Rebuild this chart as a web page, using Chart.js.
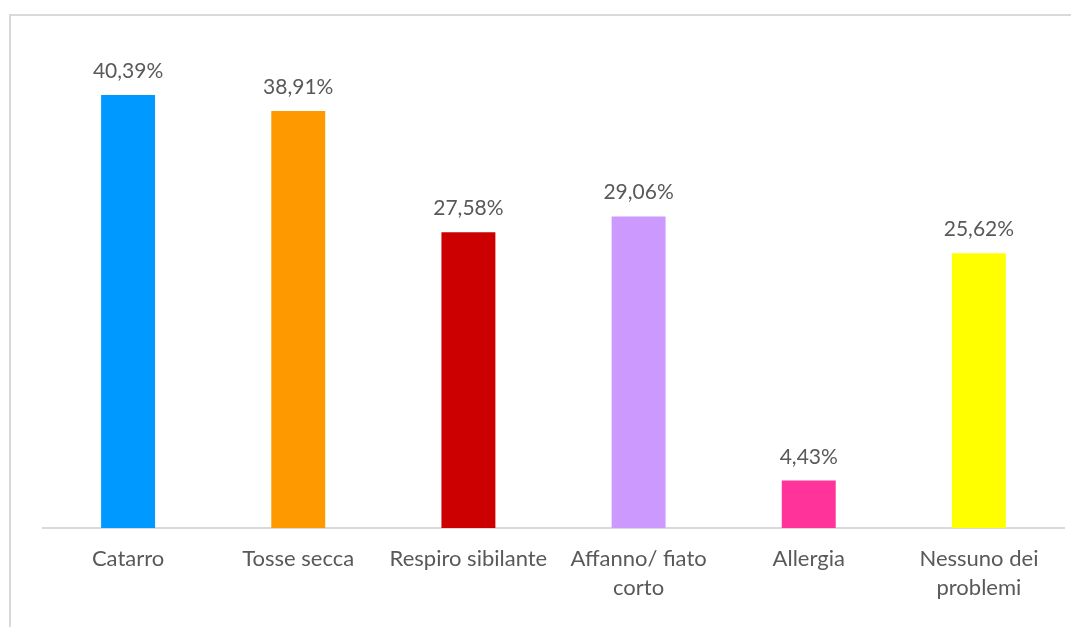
<!DOCTYPE html>
<html lang="it">
<head>
<meta charset="utf-8">
<title>Sintomi respiratori</title>
<script src="https://cdn.jsdelivr.net/npm/chart.js@4"></script>
<style>
  body { margin: 0; background: #fff; overflow: hidden; }
  #frame {
    position: absolute; left: 9px; top: 14px;
    width: 1200px; height: 800px;
    border: 2px solid #d9d9d9;
  }
  #chart { position: absolute; left: 0; top: 0; }
</style>
</head>
<body>
<div id="frame"></div>
<canvas id="chart" width="1071" height="627"></canvas>
<script>
const categories = [
  "Catarro",
  "Tosse secca",
  "Respiro sibilante",
  ["Affanno/ fiato", "corto"],
  "Allergia",
  ["Nessuno dei", "problemi"]
];
const percentages = [40.39, 38.91, 27.58, 29.06, 4.43, 25.62];
const barColors = ["#0099ff", "#ff9900", "#cc0000", "#cc99ff", "#ff3399", "#ffff00"];

const textColor = "#595959";
const fontFamily = "Lato, 'Open Sans', sans-serif";

// writes the percentage above each bar
const valueLabels = {
  id: "valueLabels",
  afterDatasetsDraw(chart) {
    const ctx = chart.ctx;
    const meta = chart.getDatasetMeta(0);
    ctx.save();
    ctx.font = "21px " + fontFamily;
    ctx.fillStyle = textColor;
    ctx.textAlign = "center";
    ctx.textBaseline = "alphabetic";
    meta.data.forEach((bar, i) => {
      const txt = percentages[i].toFixed(2).replace(".", ",") + "%";
      ctx.fillText(txt, bar.x, bar.y - 17);
    });
    ctx.restore();
  }
};

new Chart(document.getElementById("chart"), {
  type: "bar",
  data: {
    labels: categories,
    datasets: [{
      data: percentages,
      backgroundColor: barColors,
      borderWidth: 0,
      categoryPercentage: 1,
      barPercentage: 0.317
    }]
  },
  options: {
    responsive: false,
    animation: false,
    layout: { padding: { left: 43, right: 7, top: 45.6, bottom: 0 } },
    plugins: {
      legend: { display: false },
      tooltip: { enabled: false }
    },
    scales: {
      x: {
        grid: { display: false, drawTicks: false },
        border: { display: true, color: "#d9d9d9", width: 2 },
        ticks: {
          color: textColor,
          padding: 17,
          maxRotation: 0,
          autoSkip: false,
          font: { family: fontFamily, size: 22, lineHeight: 1.3 }
        },
        afterFit(scale) { scale.height = 99; }
      },
      y: {
        display: false,
        min: 0,
        max: 45
      }
    }
  },
  plugins: [valueLabels]
});
</script>
</body>
</html>
